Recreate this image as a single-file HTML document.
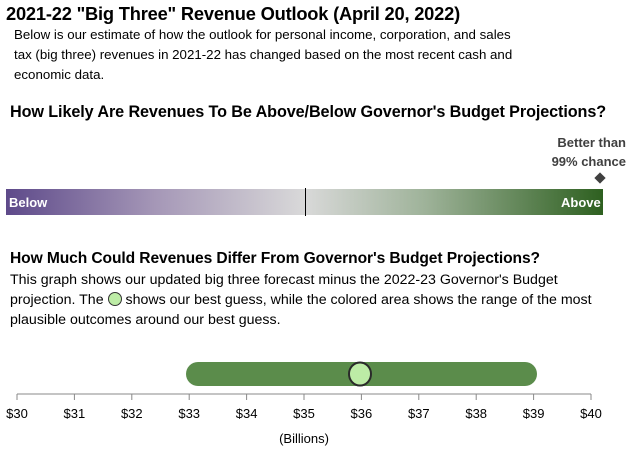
<!DOCTYPE html>
<html><head><style>
body{margin:0;width:642px;height:461px;background:#fff;font-family:"Liberation Sans",sans-serif;color:#000;position:relative;overflow:hidden}
.a{position:absolute;white-space:nowrap}
</style></head><body>
<div class="a" style="left:6px;top:3px;font-size:18.3px;font-weight:bold;letter-spacing:-0.2px">2021-22 "Big Three" Revenue Outlook (April 20, 2022)</div>
<div class="a" style="left:14px;top:25px;font-size:13.3px;line-height:20px">Below is our estimate of how the outlook for personal income, corporation, and sales<br>tax (big three) revenues in 2021-22 has changed based on the most recent cash and<br>economic data.</div>
<div class="a" style="left:10px;top:103px;font-size:16.2px;font-weight:bold;letter-spacing:-0.1px">How Likely Are Revenues To Be Above/Below Governor's Budget Projections?</div>
<div class="a" style="left:530px;top:133px;width:96px;text-align:right;font-size:13px;font-weight:bold;color:#404040;line-height:19px">Better than<br>99% chance</div>
<div class="a" style="left:596px;top:174px;width:8px;height:8px;background:#404040;transform:rotate(45deg)"></div>
<div class="a" style="left:6px;top:189px;width:597px;height:26px;background:linear-gradient(to right,#5e4a8a,#a597b7 25%,#d9d9d9 50%,#9fb39a 70%,#2e6020)"></div>
<div class="a" style="left:305px;top:188px;width:1px;height:28px;background:#000"></div>
<div class="a" style="left:9px;top:195px;font-size:13px;font-weight:bold;color:#fff">Below</div>
<div class="a" style="left:561px;top:195px;font-size:13px;font-weight:bold;color:#fff">Above</div>
<div class="a" style="left:10px;top:250px;font-size:15.6px;font-weight:bold;letter-spacing:-0.1px">How Much Could Revenues Differ From Governor's Budget Projections?</div>
<div class="a" style="left:10px;top:270px;font-size:14.2px;line-height:20px">This graph shows our updated big three forecast minus the 2022-23 Governor's Budget<br>projection. The <span style="display:inline-block;width:12px;height:12px;border-radius:50%;background:#bdeca6;border:1.5px solid #333;vertical-align:-2px"></span> shows our best guess, while the colored area shows the range of the most<br>plausible outcomes around our best guess.</div>
<svg class="a" style="left:0;top:0" width="642" height="461">
<rect x="186" y="362" width="351" height="24" rx="12" fill="#5b8c4b"/>
<ellipse cx="360" cy="374" rx="11" ry="11.5" fill="#bdeca6" stroke="#2a2a2a" stroke-width="2"/>
<line x1="17" y1="394" x2="591" y2="394" stroke="#888" stroke-width="1"/>
<g stroke="#888">
<line x1="17" y1="394" x2="17" y2="400"/><line x1="74.4" y1="394" x2="74.4" y2="400"/><line x1="131.8" y1="394" x2="131.8" y2="400"/><line x1="189.2" y1="394" x2="189.2" y2="400"/><line x1="246.6" y1="394" x2="246.6" y2="400"/><line x1="304" y1="394" x2="304" y2="400"/><line x1="361.4" y1="394" x2="361.4" y2="400"/><line x1="418.8" y1="394" x2="418.8" y2="400"/><line x1="476.2" y1="394" x2="476.2" y2="400"/><line x1="533.6" y1="394" x2="533.6" y2="400"/><line x1="591" y1="394" x2="591" y2="400"/>
</g>
<g font-family="Liberation Sans" font-size="13" text-anchor="middle" fill="#000">
<text x="17" y="418">$30</text><text x="74.4" y="418">$31</text><text x="131.8" y="418">$32</text><text x="189.2" y="418">$33</text><text x="246.6" y="418">$34</text><text x="304" y="418">$35</text><text x="361.4" y="418">$36</text><text x="418.8" y="418">$37</text><text x="476.2" y="418">$38</text><text x="533.6" y="418">$39</text><text x="591" y="418">$40</text>
<text x="304" y="443">(Billions)</text>
</g>
</svg>
</body></html>
